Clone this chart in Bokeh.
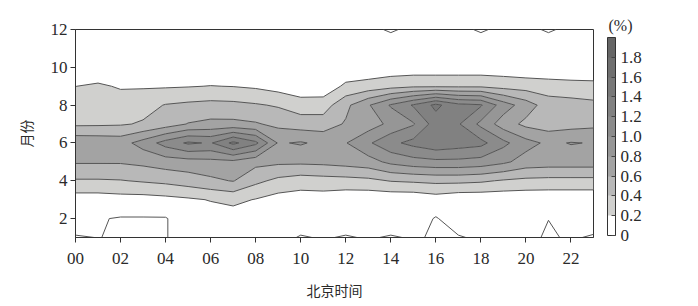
import numpy as np
from bokeh.plotting import figure
from bokeh.models import (LinearColorMapper, ColorBar, FixedTicker, CustomJSTickFormatter, Range1d)
from bokeh.embed import file_html
from bokeh.resources import INLINE

# hours (Beijing time) and months
hours = list(range(24))
months = list(range(1, 13))

# frequency (%), one list per month, hours 00..23
m01 = [0, 0.012, 0, 0, 0, 0.1, 0.1, 0.05, 0.05, 0.05, 0, 0.02, 0, 0.02, 0, 0.02, 0, 0, 0.03, 0.04, 0.03, 0, 0.02, 0]
m02 = [0.08, 0.02, 0, 0, 0, 0.1, 0.1, 0.1, 0.1, 0.1, 0.08, 0.08, 0.08, 0.08, 0.08, 0.08, 0, 0.08, 0.06, 0.06, 0.06, 0.011, 0.06, 0.06]
m03 = [0.1, 0.1, 0.12, 0.12, 0.14, 0.17, 0.21, 0.25, 0.19, 0.12, 0.1, 0.1, 0.06, 0.05, 0.05, 0.05, 0.1, 0.05, 0.05, 0.05, 0.05, 0.05, 0.05, 0.05]
m04 = [0.38, 0.38, 0.39, 0.42, 0.45, 0.5, 0.56, 0.61, 0.45, 0.35, 0.3, 0.32, 0.33, 0.35, 0.41, 0.43, 0.45, 0.45, 0.43, 0.38, 0.35, 0.34, 0.34, 0.34]
m05 = [0.62, 0.62, 0.62, 0.65, 0.7, 0.72, 0.74, 0.75, 0.66, 0.64, 0.64, 0.65, 0.68, 0.72, 0.85, 0.92, 0.95, 0.95, 0.92, 0.84, 0.72, 0.7, 0.7, 0.7]
m06 = [0.75, 0.74, 0.72, 0.88, 1.08, 1.23, 1.18, 1.45, 1.25, 0.78, 0.82, 0.75, 0.79, 0.97, 1.15, 1.26, 1.35, 1.3, 1.26, 1.05, 0.87, 0.76, 0.81, 0.79]
m07 = [0.365, 0.37, 0.38, 0.42, 0.5, 0.61, 0.65, 0.65, 0.62, 0.55, 0.5, 0.5, 0.62, 0.7, 0.85, 0.98, 1.3, 1.22, 0.95, 0.7, 0.55, 0.5, 0.52, 0.55]
m08 = [0.3, 0.3, 0.3, 0.33, 0.41, 0.44, 0.46, 0.45, 0.42, 0.38, 0.3, 0.3, 0.55, 0.78, 1.02, 1.22, 1.45, 1.26, 1.22, 0.9, 0.7, 0.5, 0.48, 0.45]
m09 = [0.198, 0.23, 0.18, 0.18, 0.18, 0.19, 0.205, 0.195, 0.17, 0.12, 0.06, 0.07, 0.24, 0.28, 0.33, 0.37, 0.37, 0.37, 0.37, 0.33, 0.31, 0.29, 0.27, 0.26]
m10 = [0.05, 0.05, 0.05, 0.05, 0.05, 0.05, 0.05, 0.05, 0.05, 0.05, 0.05, 0.05, 0.05, 0.06, 0.08, 0.08, 0.08, 0.08, 0.08, 0.08, 0.06, 0.05, 0.05, 0.05]
m11 = [0.06, 0.06, 0.06, 0.06, 0.06, 0.06, 0.06, 0.06, 0.06, 0.06, 0.06, 0.06, 0.06, 0.06, 0.06, 0.06, 0.06, 0.06, 0.06, 0.06, 0.06, 0.06, 0.06, 0.06]
m12 = [0.03, 0.03, 0.03, 0.03, 0.03, 0.03, 0.03, 0.03, 0.03, 0.03, 0.03, 0.03, 0.03, 0.03, 0, 0.03, 0.03, 0.03, 0, 0.03, 0.03, 0, 0.03, 0.03]

levels = [0.2, 0.4, 0.6, 0.8, 1.0, 1.2, 1.4, 1.6, 1.8, 2.0]
zero_level = [0.01]
fills = ["#d0d0ce", "#b8b8b8", "#a3a3a3", "#969696", "#8b8b8b", "#818181", "#787878", "#6f6f6f", "#666666"]
bar_colors = ["#ffffff"] + fills
bar_ticks = [0, 0.2, 0.4, 0.6, 0.8, 1.0, 1.2, 1.4, 1.6, 1.8]
x_ticks = [0, 2, 4, 6, 8, 10, 12, 14, 16, 18, 20, 22]
x_labels = ["00", "02", "04", "06", "08", "10", "12", "14", "16", "18", "20", "22"]
y_ticks = [2, 4, 6, 8, 10, 12]

z = np.array([m01, m02, m03, m04, m05, m06, m07, m08, m09, m10, m11, m12])

SERIF = "Liberation Serif"
CJK = "Noto Sans CJK SC"
TXT = "#2a2a2a"

p = figure(width=698, height=306, x_range=Range1d(0, 23), y_range=Range1d(1, 12),
           output_backend="svg", toolbar_location=None,
           min_border_left=75, min_border_right=105, min_border_top=29, min_border_bottom=69)

p.contour(hours, months, z, levels=levels, fill_color=fills, line_color="#555555", line_width=1)
p.contour(hours, months, z, levels=zero_level, line_color="#555555", line_width=1)

p.xgrid.visible = False
p.ygrid.visible = False
p.outline_line_color = "#333333"
p.outline_line_width = 1

# unit of the colour bar, shown as a title at the top right
p.title.text = "(%)"
p.title.align = "right"
p.title.offset = -39
p.title.standoff = -8
p.title.text_font = SERIF
p.title.text_font_size = "16px"
p.title.text_font_style = "normal"
p.title.text_color = TXT

xa = p.xaxis[0]
xa.ticker = FixedTicker(ticks=x_ticks)
xa.major_label_overrides = {t: l for t, l in zip(x_ticks, x_labels)}
xa.axis_label = "北京时间"
ya = p.yaxis[0]
ya.ticker = FixedTicker(ticks=y_ticks)
ya.axis_label = "月份"
for ax in (xa, ya):
    ax.minor_tick_line_color = None
    ax.major_tick_in = 0
    ax.major_tick_out = 5
    ax.axis_line_color = "#333333"
    ax.major_tick_line_color = "#333333"
    ax.major_label_text_font = SERIF
    ax.major_label_text_font_size = "17px"
    ax.major_label_text_color = TXT
    ax.axis_label_text_font = CJK
    ax.axis_label_text_font_size = "14px"
    ax.axis_label_text_font_style = "normal"
    ax.axis_label_text_color = TXT
xa.major_label_standoff = 10
xa.axis_label_standoff = 13
ya.major_label_standoff = 3
ya.axis_label_standoff = 12

mapper = LinearColorMapper(palette=bar_colors, low=0, high=2)
cb = ColorBar(color_mapper=mapper, ticker=FixedTicker(ticks=bar_ticks),
              formatter=CustomJSTickFormatter(code="return tick === 0 ? '0' : tick.toFixed(1);"),
              width=8, height=198,
              major_label_text_font=SERIF, major_label_text_font_size="17px", major_label_text_color=TXT,
              bar_line_color="#333333", major_tick_line_color="#444444", major_tick_in=4, major_tick_out=0,
              label_standoff=5, padding=0, margin=0,
              background_fill_color=None, border_line_color=None,
              location=(532, 2))
p.add_layout(cb, "center")

open("out.html", "w").write(file_html(p, INLINE))
